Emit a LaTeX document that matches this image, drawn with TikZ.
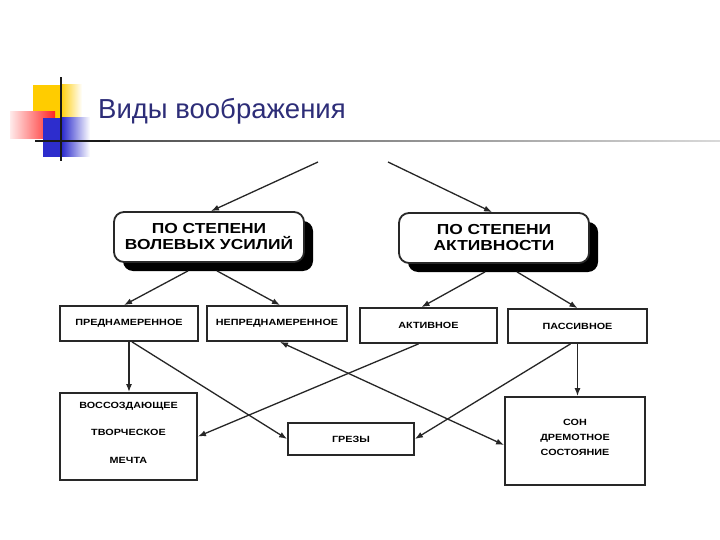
\documentclass[tikz,border=0pt]{standalone}
\usepackage{fontspec}
\setmainfont{Liberation Sans}
\newfontfamily\widefont[FakeStretch=1.2]{Liberation Sans}
\usetikzlibrary{arrows.meta,calc,shadows}
\definecolor{titleblue}{RGB}{45,45,120}
\definecolor{boxline}{RGB}{40,40,40}
\definecolor{dyellow}{RGB}{255,204,0}
\definecolor{dblue}{RGB}{45,45,205}
\definecolor{dred}{RGB}{255,35,35}
\begin{document}
\begin{tikzpicture}[x=1pt,y=-1pt,
  bigbox/.style={draw=boxline, line width=1.8pt, rounded corners=10pt, fill=white,
    minimum width=190pt, minimum height=50pt, align=center, inner sep=0pt,
    font=\widefont\bfseries\fontsize{14.5}{16}\selectfont,
    drop shadow={shadow xshift=9pt, shadow yshift=-9pt, fill=black, opacity=1}},
  smallbox/.style={draw=boxline, line width=1.8pt, fill=white, align=center, inner sep=0pt,
    font=\widefont\bfseries\fontsize{9}{10}\selectfont},
  boxtext/.style={align=center, inner sep=0pt, font=\widefont\bfseries\fontsize{9}{10}\selectfont},
  conn/.style={draw=black!85, line width=1.3pt, -{Latex[length=8pt,width=6pt]}},
  dconn/.style={draw=black!85, line width=1.3pt, {Latex[length=8pt,width=6pt]}-{Latex[length=8pt,width=6pt]}},
]
\useasboundingbox (0,0) rectangle (720,540);
\fill[white] (0,0) rectangle (720,540);

% title decoration
\fill[dyellow] (33,85) rectangle (60,120);
\shade[left color=dyellow, right color=white] (60,85) rectangle (82,120);
\shade[left color=red!8, right color=dred] (10,112) rectangle (55,139);
\fill[dblue] (43,118) rectangle (62,157);
\shade[left color=dblue, right color=white] (62,118) rectangle (90,157);
\fill[black!90] (35,140) rectangle (110,142.2);
\shade[left color=black!70, right color=black!15] (110,140.2) rectangle (720,142);
\fill[black!90] (60,77) rectangle (62.3,161);

\node[anchor=base west, inner sep=0pt, text=titleblue, font=\fontsize{27.5}{31}\selectfont] (title) at (98,119) {Виды воображения};

% top level boxes
\node[bigbox] (vol) at (209,237) {ПО СТЕПЕНИ\\ВОЛЕВЫХ УСИЛИЙ};
\node[bigbox] (akt) at (494,238) {ПО СТЕПЕНИ\\АКТИВНОСТИ};

% second row
\node[smallbox, minimum width=138pt, minimum height=35pt] (pred) at (129,323.5) {ПРЕДНАМЕРЕННОЕ};
\node[smallbox, minimum width=140pt, minimum height=35pt] (nepred) at (277,323.5) {НЕПРЕДНАМЕРЕННОЕ};
\node[smallbox, minimum width=137pt, minimum height=35pt] (aktiv) at (428.5,325.5) {АКТИВНОЕ};
\node[smallbox, minimum width=139pt, minimum height=34pt] (pass) at (577.5,326) {ПАССИВНОЕ};

% bottom row
\node[smallbox, minimum width=137pt, minimum height=87pt] (vos) at (128.5,436.5) {};
\node[boxtext, font=\widefont\bfseries\fontsize{9}{27.5}\selectfont] (vostext) at ($(vos.center)+(0,-4)$) {ВОССОЗДАЮЩЕЕ\\ТВОРЧЕСКОЕ\\МЕЧТА};
\node[smallbox, minimum width=126pt, minimum height=32pt] (grezy) at (351,439) {ГРЕЗЫ};
\node[smallbox, minimum width=140pt, minimum height=88pt] (son) at (575,441) {};
\node[boxtext, font=\widefont\bfseries\fontsize{9}{15}\selectfont] (sontext) at ($(son.center)+(0,-4)$) {СОН\\ДРЕМОТНОЕ\\СОСТОЯНИЕ};

% free ends of top arrows
\coordinate (t1) at (318,162);
\coordinate (t2) at (388,162);

% connectors
\draw[conn] (t1) -- ($(vol.north)+(2,0)$);
\draw[conn] (t2) -- ($(akt.north)+(-2,0)$);
\draw[conn] ($(vol.south)+(-21,8)$) -- ($(pred.north)+(-5,0)$);
\draw[conn] ($(vol.south)+(8,8)$) -- ($(nepred.north)+(3,0)$);
\draw[conn] ($(akt.south)+(-9,8)$) -- ($(aktiv.north)+(-7,0)$);
\draw[conn] ($(akt.south)+(23,8)$) -- ($(pass.north)+(0,0)$);
\draw[conn] (pred.south) -- (pred.south |- vos.north);
\draw[conn] ($(pred.south)+(3,0)$) -- (grezy.west);
\draw[conn] ($(aktiv.south)+(-10,0)$) -- (vos.east);
\draw[conn] (pass.south) -- (pass.south |- son.north);
\draw[conn] ($(pass.south)+(-7,0)$) -- (grezy.east);
\draw[dconn] ($(nepred.south)+(3,0)$) -- ($(son.west)+(0,4)$);
\end{tikzpicture}
\end{document}
